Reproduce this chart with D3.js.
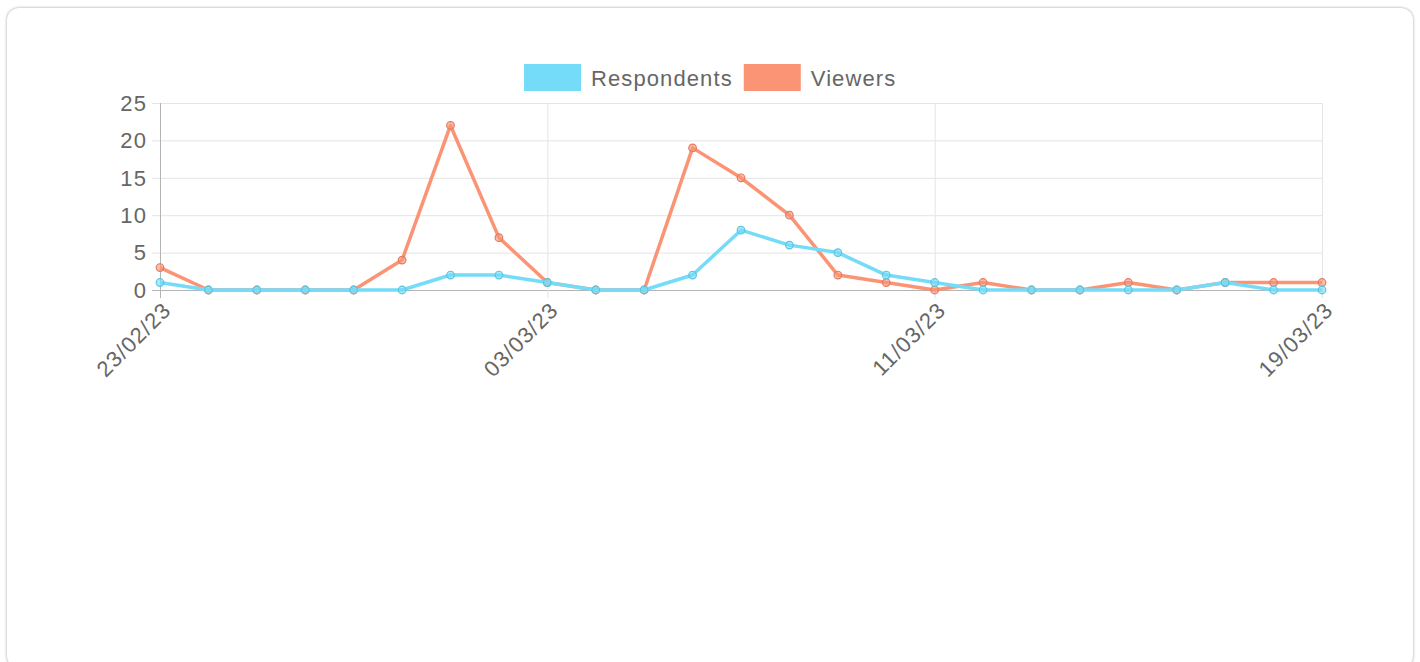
<!DOCTYPE html>
<html>
<head>
<meta charset="utf-8">
<script src="https://cdn.jsdelivr.net/npm/d3@7"></script>
<style>
  body { margin: 0; background: #fff; font-family: "Liberation Sans", Arial, sans-serif; }
  .card {
    position: absolute; left: 7px; top: 8px; width: 1406px; height: 660px;
    border-radius: 12px; background: #fff;
    box-shadow: 0 0 3px rgba(0,0,0,0.4);
  }
  svg { position: absolute; left: 0; top: 0; }
  text { letter-spacing: 1.1px; }
</style>
</head>
<body>
<div class="card"></div>
<svg id="chart" width="1420" height="662"></svg>
<script>
// days shown on the x axis
const dates = ["23/02/23", "24/02/23", "25/02/23", "26/02/23", "27/02/23", "28/02/23",
  "01/03/23", "02/03/23", "03/03/23", "04/03/23", "05/03/23", "06/03/23", "07/03/23",
  "08/03/23", "09/03/23", "10/03/23", "11/03/23", "12/03/23", "13/03/23", "14/03/23",
  "15/03/23", "16/03/23", "17/03/23", "18/03/23", "19/03/23"];

const respondents = [1, 0, 0, 0, 0, 0, 2, 2, 1, 0, 0, 2, 8, 6, 5, 2, 1, 0, 0, 0, 0, 0, 1, 0, 0];
const viewers = [3, 0, 0, 0, 0, 4, 22, 7, 1, 0, 0, 19, 15, 10, 2, 1, 0, 1, 0, 0, 1, 0, 1, 1, 1];

const yTicks = [0, 5, 10, 15, 20, 25];
const xTickLabels = ["23/02/23", "03/03/23", "11/03/23", "19/03/23"];

const series = [
  { name: "Respondents", values: respondents, color: "#74dcf8", point: "#5ec4df" },
  { name: "Viewers", values: viewers, color: "#fa9475", point: "#e07c62" }
];

const svg = d3.select("#chart");
const plotLeft = 160, plotRight = 1322, plotTop = 103, plotBottom = 290;

const x = d3.scalePoint().domain(dates).range([plotLeft, plotRight]);
const y = d3.scaleLinear().domain([0, 25]).range([plotBottom, plotTop]);

// horizontal grid
svg.append("g")
  .selectAll("line")
  .data(yTicks)
  .join("line")
  .attr("x1", plotLeft - 8)
  .attr("x2", plotRight)
  .attr("y1", d => y(d) + 0.5)
  .attr("y2", d => y(d) + 0.5)
  .attr("stroke", d => d === 0 ? "#b4b4b4" : "#e4e4e4")
  .attr("stroke-width", 1);

// vertical grid
svg.append("g")
  .selectAll("line")
  .data(xTickLabels)
  .join("line")
  .attr("x1", d => x(d) + 0.5)
  .attr("x2", d => x(d) + 0.5)
  .attr("y1", plotTop)
  .attr("y2", plotBottom + 8)
  .attr("stroke", (d, i) => i === 0 ? "#b4b4b4" : "#e4e4e4");

// y labels
svg.append("g")
  .selectAll("text")
  .data(yTicks)
  .join("text")
  .attr("x", 147)
  .attr("y", d => y(d))
  .attr("dy", "0.35em")
  .attr("text-anchor", "end")
  .attr("font-size", 22)
  .attr("fill", "#666")
  .text(d => d);

// x labels, rotated
svg.append("g")
  .selectAll("text")
  .data(xTickLabels)
  .join("text")
  .attr("transform", d => `translate(${x(d) + 7},${plotBottom + 16}) rotate(-45)`)
  .attr("text-anchor", "end")
  .attr("dy", "0.35em")
  .attr("font-size", 22)
  .attr("fill", "#666")
  .text(d => d);

const line = d3.line()
  .x((d, i) => x(dates[i]))
  .y(d => y(d));

// draw viewers first so respondents sit on top
[series[1], series[0]].forEach(s => {
  svg.append("path")
    .datum(s.values)
    .attr("d", line)
    .attr("fill", "none")
    .attr("stroke", s.color)
    .attr("stroke-width", 3.5)
    .attr("stroke-linejoin", "round");

  svg.append("g")
    .selectAll("circle")
    .data(s.values)
    .join("circle")
    .attr("cx", (d, i) => x(dates[i]))
    .attr("cy", d => y(d))
    .attr("r", 3.8)
    .attr("fill", s.color)
    .attr("fill-opacity", 0.6)
    .attr("stroke", s.point)
    .attr("stroke-width", 1.2);
});

// legend
const legend = svg.append("g");
let lx = 524;
series.forEach(s => {
  legend.append("rect")
    .attr("x", lx)
    .attr("y", 64)
    .attr("width", 57)
    .attr("height", 27)
    .attr("fill", s.color);
  const t = legend.append("text")
    .attr("x", lx + 67)
    .attr("y", 78)
    .attr("dy", "0.35em")
    .attr("font-size", 22)
    .attr("fill", "#666")
    .text(s.name);
  lx += 67 + t.node().getComputedTextLength() + 11;
});
</script>
</body>
</html>
